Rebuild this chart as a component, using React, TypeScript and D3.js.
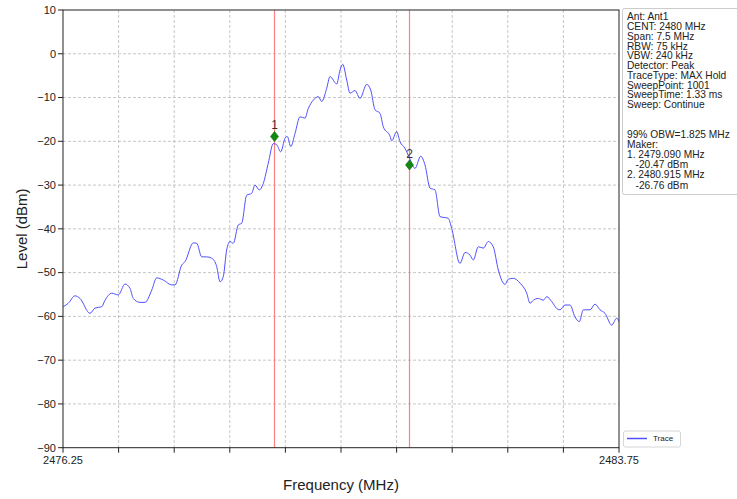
import React from "react";
import * as d3 from "d3";

const freqs = [
  2476.254, 2476.321, 2476.412, 2476.479, 2476.614, 2476.682, 2476.772, 2476.817, 2476.907, 2476.996,
  2477.086, 2477.154, 2477.198, 2477.289, 2477.356, 2477.447, 2477.514, 2477.603, 2477.716, 2477.761,
  2477.851, 2477.896, 2478.008, 2478.054, 2478.121, 2478.188, 2478.256, 2478.323, 2478.368, 2478.412,
  2478.458, 2478.503, 2478.547, 2478.615, 2478.661, 2478.728, 2478.795, 2478.840, 2478.898, 2478.952,
  2479.019, 2479.087, 2479.133, 2479.187, 2479.245, 2479.276, 2479.322, 2479.380, 2479.447, 2479.514,
  2479.559, 2479.626, 2479.694, 2479.740, 2479.807, 2479.852, 2479.942, 2479.987, 2480.023, 2480.077,
  2480.121, 2480.189, 2480.256, 2480.347, 2480.401, 2480.459, 2480.526, 2480.571, 2480.661, 2480.684,
  2480.751, 2480.796, 2480.863, 2480.924, 2480.998, 2481.075, 2481.133, 2481.201, 2481.268, 2481.335,
  2481.447, 2481.493, 2481.605, 2481.673, 2481.740, 2481.785, 2481.852, 2481.920, 2481.987, 2482.054,
  2482.122, 2482.212, 2482.257, 2482.324, 2482.415, 2482.505, 2482.550, 2482.594, 2482.662, 2482.729,
  2482.775, 2482.842, 2482.910, 2482.954, 2483.022, 2483.089, 2483.156, 2483.215, 2483.269, 2483.359,
  2483.426, 2483.494, 2483.561, 2483.652, 2483.719, 2483.750,
];

const levels = [
  -57.8, -57.0, -55.3, -55.9, -59.3, -58.1, -57.8, -56.3, -54.7, -55.1,
  -52.6, -53.6, -55.9, -56.8, -56.8, -54.0, -51.2, -51.7, -52.8, -52.8,
  -48.3, -47.5, -43.2, -43.3, -46.4, -46.4, -46.7, -48.6, -52.1, -50.9,
  -44.8, -42.9, -43.3, -39.1, -38.7, -32.3, -31.9, -30.0, -31.1, -29.6,
  -25.0, -20.5, -20.8, -22.4, -19.3, -18.9, -21.2, -18.2, -14.4, -14.7,
  -12.5, -10.6, -9.8, -10.9, -7.9, -5.2, -6.9, -3.7, -2.4, -6.0,
  -9.0, -8.4, -10.2, -7.0, -8.3, -12.8, -13.6, -16.7, -18.8, -19.9,
  -17.8, -20.1, -21.6, -23.8, -26.2, -23.4, -25.4, -30.7, -31.1, -37.2,
  -37.6, -39.9, -47.9, -45.4, -46.0, -47.1, -44.1, -44.4, -42.9, -44.1,
  -49.4, -52.7, -51.5, -51.3, -52.4, -54.7, -57.0, -56.3, -55.9, -56.3,
  -55.5, -56.6, -58.2, -58.5, -57.4, -57.4, -60.1, -61.2, -58.5, -58.5,
  -57.2, -58.5, -59.3, -62.0, -60.4, -61.2,
];

const markerFreqs = [2479.09, 2480.915];
const markerLevels = [-18.9, -25.4];
const markerLabels = ["1", "2"];

const yTickValues = [10, 0, -10, -20, -30, -40, -50, -60, -70, -80, -90];
const xTickValues = [2476.25, 2477.0, 2477.75, 2478.5, 2479.25, 2480.0, 2480.75, 2481.5, 2482.25, 2483.0, 2483.75];
const xTickLabels = ["2476.25", "", "", "", "", "", "", "", "", "", "2483.75"];

const infoLinesTop = [
  "Ant: Ant1",
  "CENT: 2480 MHz",
  "Span: 7.5 MHz",
  "RBW: 75 kHz",
  "VBW: 240 kHz",
  "Detector: Peak",
  "TraceType: MAX Hold",
  "SweepPoint: 1001",
  "SweepTime: 1.33 ms",
  "Sweep: Continue",
];
const infoLinesBottom = [
  "99% OBW=1.825 MHz",
  "Maker:",
  "1. 2479.090 MHz",
  "   -20.47 dBm",
  "2. 2480.915 MHz",
  "   -26.76 dBm",
];

const legendLabel = "Trace";

const W = 737;
const H = 499;
const left = 63;
const right = 619;
const top = 10;
const bottom = 447.7;
const FONT = "'Liberation Sans', Arial, sans-serif";

export default function App() {
  const x = d3.scaleLinear().domain([2476.25, 2483.75]).range([left, right]);
  const y = d3.scaleLinear().domain([-90, 10]).range([bottom, top]);
  const pts: [number, number][] = freqs.map((f, i) => [f, levels[i]]);
  const line = d3
    .line<[number, number]>()
    .x((d) => x(d[0]))
    .y((d) => y(d[1]))
    .curve(d3.curveMonotoneX);
  const fmt = (v: number) => String(v).replace("-", "\u2212");
  const snap = (v: number) => Math.round(v) + 0.5;

  return (
    <svg
      width={W}
      height={H}
      style={{ position: "absolute", left: 0, top: 0, background: "#fff" }}
      fontFamily={FONT}
    >
      <rect x={0} y={0} width={W} height={H} fill="#fff" />
      {yTickValues.slice(1, -1).map((v) => (
        <line key={"gy" + v} x1={left} x2={right} y1={y(v)} y2={y(v)} stroke="#b8b8b8" strokeWidth={0.8} strokeDasharray="3,2" />
      ))}
      {xTickValues.slice(1, -1).map((v) => (
        <line key={"gx" + v} x1={x(v)} x2={x(v)} y1={top} y2={bottom} stroke="#b8b8b8" strokeWidth={0.8} strokeDasharray="3,2" />
      ))}
      {markerFreqs.map((f) => (
        <line key={"ml" + f} x1={snap(x(f))} x2={snap(x(f))} y1={top} y2={bottom} stroke="#ff8080" strokeWidth={1.2} />
      ))}
      <path d={line(pts) || ""} fill="none" stroke="#5050ff" strokeWidth={1} />
      {markerFreqs.map((f, i) => {
        const cx = snap(x(f));
        const cy = y(markerLevels[i]);
        const r = 5;
        return (
          <g key={"mk" + i}>
            <path d={`M${cx},${cy - r}L${cx + r * 0.8},${cy}L${cx},${cy + r}L${cx - r * 0.8},${cy}Z`} fill="#118811" stroke="#0a6a0a" strokeWidth={0.6} />
            <text x={cx} y={cy - 7} textAnchor="middle" fontSize={12} fill="#333">
              {markerLabels[i]}
            </text>
          </g>
        );
      })}
      <rect x={left} y={top} width={right - left} height={bottom - top} fill="none" stroke="#222" strokeWidth={1} />
      {yTickValues.map((v) => (
        <g key={"yt" + v}>
          <line x1={left - 5} x2={left} y1={y(v)} y2={y(v)} stroke="#222" strokeWidth={1} />
          <text x={left - 7} y={y(v)} dy="0.35em" textAnchor="end" fontSize={11} fill="#222">
            {fmt(v)}
          </text>
        </g>
      ))}
      {xTickValues.map((v, i) => (
        <g key={"xt" + v}>
          <line x1={x(v)} x2={x(v)} y1={bottom} y2={bottom + 5} stroke="#222" strokeWidth={1} />
          {xTickLabels[i] && (
            <text x={x(v)} y={bottom + 16} textAnchor="middle" fontSize={11} fill="#222">
              {xTickLabels[i]}
            </text>
          )}
        </g>
      ))}
      <text x={(left + right) / 2} y={490} textAnchor="middle" fontSize={15} fill="#222">
        Frequency (MHz)
      </text>
      <text transform={`translate(27,${(top + bottom) / 2}) rotate(-90)`} textAnchor="middle" fontSize={15} fill="#222">
        Level (dBm)
      </text>
      <rect x={622.5} y={8.5} width={120} height={186} rx={2} fill="#fff" stroke="#cccccc" strokeWidth={1} />
      {infoLinesTop.map((t, i) => (
        <text key={"it" + i} x={627} y={16.7 + i * 9.75} dy="0.35em" fontSize={10.2} fill="#222" style={{ whiteSpace: "pre" }}>
          {t}
        </text>
      ))}
      {infoLinesBottom.map((t, i) => (
        <text key={"ib" + i} x={627} y={134 + i * 10.2} dy="0.35em" fontSize={10.2} fill="#222" style={{ whiteSpace: "pre" }}>
          {t}
        </text>
      ))}
      <rect x={623.5} y={431} width={57} height={16} rx={2} fill="#fff" stroke="#cccccc" strokeWidth={0.8} />
      <line x1={627} x2={647} y1={438.5} y2={438.5} stroke="#5050ff" strokeWidth={1.5} />
      <text x={653} y={438.5} dy="0.35em" fontSize={8} fill="#222">
        {legendLabel}
      </text>
    </svg>
  );
}
